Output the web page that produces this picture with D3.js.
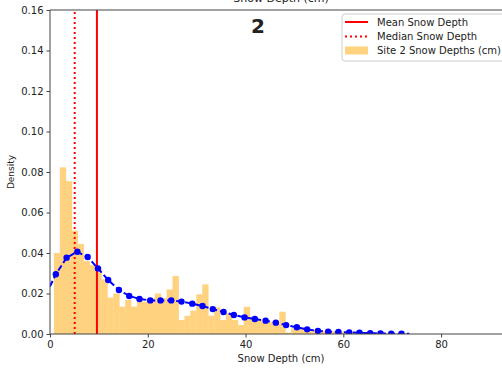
<!DOCTYPE html>
<html>
<head>
<meta charset="utf-8">
<script src="https://cdn.jsdelivr.net/npm/d3@7/dist/d3.min.js"></script>
<style>
body { margin: 0; background: #fff; }
text { font-family: "DejaVu Sans", sans-serif; fill: #222; }
</style>
</head>
<body>
<script>
// histogram heights (density), 60 bins between binMin and binMax
var histDensity = [
  0.040, 0.0823, 0.0755, 0.051, 0.0444, 0.036, 0.034, 0.033, 0.027, 0.018,
  0.020, 0.0135, 0.0168, 0.0135, 0.016, 0.016, 0.0176, 0.020, 0.0176, 0.022,
  0.0286, 0.0069, 0.009, 0.0115, 0.0196, 0.0245, 0.009, 0.0132, 0.0069, 0.0102,
  0.0069, 0.0044, 0.0134, 0.0085, 0.0072, 0.006, 0.0058, 0.0049, 0.011, 0.0007,
  0.0028, 0.0028, 0.0025, 0.002, 0.0018, 0.0016, 0.0015, 0.0013, 0.0012, 0.001,
  0.0008, 0.0006, 0.0005, 0.0004, 0.0004, 0.0003, 0.0003, 0.0002, 0.0002, 0.0002
];
var binMin = 0.8, binMax = 73.6;

// kde markers
var kdeX = [1.2, 3.4, 5.6, 7.7, 9.8, 11.9, 14.1, 16.2, 18.3, 20.5, 22.6, 24.8,
  26.9, 29.1, 31.2, 33.3, 35.5, 37.6, 39.8, 41.9, 44.1, 46.2, 48.3, 50.5, 52.6,
  54.8, 56.9, 59.0, 61.2, 63.3, 65.5, 67.6, 69.8, 71.9];
var kdeY = [0.0295, 0.0377, 0.0406, 0.038, 0.0324, 0.0267, 0.0217, 0.0188, 0.0173,
  0.0166, 0.0166, 0.0166, 0.016, 0.015, 0.0138, 0.0123, 0.0109, 0.0094, 0.0082,
  0.0074, 0.0066, 0.0056, 0.0044, 0.0033, 0.0023, 0.0015, 0.0011, 0.001, 0.0008,
  0.0006, 0.0004, 0.0003, 0.0002, 0.0001];
// dashed curve reaches a bit past the first/last marker
var kdeStart = [0, 0.0235];
var kdeEnd = [73.5, 0.0001];

var meanDepth = 9.6;
var medianDepth = 5.05;

var xTicks = [0, 20, 40, 60, 80];
var yTicks = [0, 0.02, 0.04, 0.06, 0.08, 0.10, 0.12, 0.14, 0.16];

var W = 502, H = 368;
var mLeft = 50, mRight = 512, mTop = 10, mBottom = 334;

var svg = d3.select('body').append('svg')
  .attr('width', W).attr('height', H);

var x = d3.scaleLinear().domain([0, 94.5]).range([mLeft, mRight]);
var y = d3.scaleLinear().domain([0, 0.16]).range([mBottom, mTop]);

svg.append('clipPath').attr('id', 'plot')
  .append('rect').attr('x', mLeft).attr('y', mTop)
  .attr('width', mRight - mLeft).attr('height', mBottom - mTop);

var g = svg.append('g').attr('clip-path', 'url(#plot)');

var bw = (binMax - binMin) / histDensity.length;
g.selectAll('rect.bar')
  .data(histDensity)
  .enter()
  .append('rect')
  .attr('class', 'bar')
  .attr('x', function (d, i) { return x(binMin + i * bw); })
  .attr('width', function (d, i) { return x(binMin + (i + 1) * bw) - x(binMin + i * bw) + 0.4; })
  .attr('y', function (d) { return y(d); })
  .attr('height', function (d) { return y(0) - y(d); })
  .attr('fill', '#ffd27f');

// mean / median lines
g.append('line')
  .attr('x1', x(meanDepth)).attr('x2', x(meanDepth))
  .attr('y1', y(0)).attr('y2', y(0.16))
  .attr('stroke', '#ff0000').attr('stroke-width', 2);
g.append('line')
  .attr('x1', x(medianDepth)).attr('x2', x(medianDepth))
  .attr('y1', y(0)).attr('y2', y(0.16))
  .attr('stroke', '#ff0000').attr('stroke-width', 2)
  .attr('stroke-dasharray', '2,3');

var kdePts = kdeX.map(function (v, i) { return [v, kdeY[i]]; });
var linePts = [kdeStart].concat(kdePts, [kdeEnd]);
var line = d3.line()
  .x(function (d) { return x(d[0]); })
  .y(function (d) { return y(d[1]); });

g.append('path')
  .attr('d', line(linePts))
  .attr('fill', 'none')
  .attr('stroke', '#0000ff')
  .attr('stroke-width', 2)
  .attr('stroke-dasharray', '6,3');

g.selectAll('circle.kde')
  .data(kdePts)
  .enter()
  .append('circle')
  .attr('class', 'kde')
  .attr('cx', function (d) { return x(d[0]); })
  .attr('cy', function (d) { return y(d[1]); })
  .attr('r', 3.2)
  .attr('fill', '#0000ff');

// axes
var xAxis = svg.append('g')
  .attr('transform', 'translate(0,' + mBottom + ')')
  .call(d3.axisBottom(x).tickValues(xTicks).tickSize(3.5).tickPadding(3));
var yAxis = svg.append('g')
  .attr('transform', 'translate(' + mLeft + ',0)')
  .call(d3.axisLeft(y).tickValues(yTicks).tickSize(3.5).tickPadding(3)
    .tickFormat(d3.format('.2f')));

[xAxis, yAxis].forEach(function (a) {
  a.select('.domain').remove();
  a.selectAll('line').attr('stroke', '#444');
  a.selectAll('text').style('font-family', '"DejaVu Sans", sans-serif')
    .style('font-size', '10px').attr('fill', '#222');
});

// spines
svg.append('line').attr('x1', mLeft).attr('x2', mLeft).attr('y1', mTop).attr('y2', mBottom)
  .attr('stroke', '#444').attr('stroke-width', 1);
svg.append('line').attr('x1', mLeft).attr('x2', mRight).attr('y1', mBottom).attr('y2', mBottom)
  .attr('stroke', '#444').attr('stroke-width', 1);
svg.append('line').attr('x1', mLeft).attr('x2', mRight).attr('y1', mTop).attr('y2', mTop)
  .attr('stroke', '#444').attr('stroke-width', 1);

// labels
svg.append('text')
  .attr('x', (mLeft + mRight) / 2).attr('y', 362)
  .attr('text-anchor', 'middle').style('font-size', '10px')
  .text('Snow Depth (cm)');
svg.append('text')
  .attr('transform', 'translate(14,' + ((mTop + mBottom) / 2) + ') rotate(-90)')
  .attr('text-anchor', 'middle').style('font-size', '9px')
  .text('Density');
// title, mostly above the frame (cut off in the original too)
svg.append('text')
  .attr('x', (mLeft + mRight) / 2).attr('y', 2)
  .attr('text-anchor', 'middle').style('font-size', '11px')
  .text('Snow Depth (cm)');
svg.append('text')
  .attr('x', 258).attr('y', 33)
  .attr('text-anchor', 'middle').style('font-size', '20px').style('font-weight', 'bold')
  .attr('fill', '#000')
  .text('2');

// legend
var lg = svg.append('g');
lg.append('rect')
  .attr('x', 342).attr('y', 14).attr('width', 175).attr('height', 47)
  .attr('rx', 3).attr('fill', '#fff').attr('fill-opacity', 0.8)
  .attr('stroke', '#ccc').attr('stroke-width', 1);
var legItems = ['Mean Snow Depth', 'Median Snow Depth', 'Site 2 Snow Depths (cm)'];
var legY = [22, 36.5, 50.5];
legItems.forEach(function (t, i) {
  if (i === 2) {
    lg.append('rect').attr('x', 345).attr('y', legY[i] - 4).attr('width', 23).attr('height', 8)
      .attr('fill', '#ffd27f');
  } else {
    lg.append('line').attr('x1', 345).attr('x2', 368).attr('y1', legY[i]).attr('y2', legY[i])
      .attr('stroke', '#ff0000').attr('stroke-width', 2)
      .attr('stroke-dasharray', i === 1 ? '2,3' : null);
  }
  lg.append('text').attr('x', 377).attr('y', legY[i] + 3.5)
    .style('font-size', '10px').text(t);
});
</script>
</body>
</html>
